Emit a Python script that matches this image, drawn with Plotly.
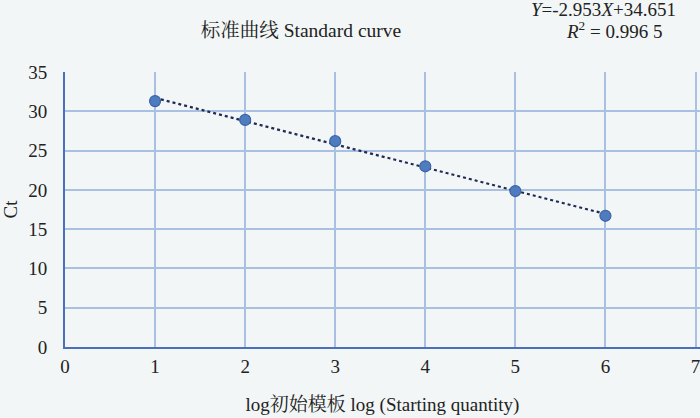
import numpy as np
import plotly.graph_objects as go

# data
log_quantity = [1, 2, 3, 4, 5, 6]
ct_values = [31.3, 28.9, 26.2, 23.0, 19.85, 16.7]

# trendline reported on the chart
slope = -2.953
intercept = 34.651
r_squared = "0.996 5"

x_ticks = [0, 1, 2, 3, 4, 5, 6, 7]
y_ticks = [0, 5, 10, 15, 20, 25, 30, 35]

FONT = "Liberation Serif, Times New Roman, Noto Serif CJK SC, Noto Sans CJK SC, serif"
BG = "#f3f6f6"
GRID = "#a9c0e2"
AXIS = "#4a70b8"
TXT = "#222"

fit_x = np.array([log_quantity[0], log_quantity[-1]], dtype=float)
fit_y = slope * fit_x + intercept

fig = go.Figure()
fig.add_trace(go.Scatter(
    x=fit_x, y=fit_y, mode="lines",
    line=dict(color="#1f2a55", width=2.2, dash="dot"),
    hoverinfo="skip", showlegend=False,
))
fig.add_trace(go.Scatter(
    x=log_quantity, y=ct_values, mode="markers",
    marker=dict(size=11, color="#4f7cbf", line=dict(color="#3a64a6", width=1.2)),
    showlegend=False,
))

fig.add_annotation(
    text="<i>Y</i>=-2.953<i>X</i>+34.651",
    xref="paper", yref="paper", x=0.966, y=1.0, yanchor="middle", xanchor="right",
    showarrow=False, font=dict(family=FONT, size=19, color=TXT),
    yshift=63,
)
fig.add_annotation(
    text=f"<i>R</i><sup>2</sup> = {r_squared}",
    xref="paper", yref="paper", x=0.943, y=1.0, yanchor="middle", xanchor="right",
    showarrow=False, font=dict(family=FONT, size=19, color=TXT),
    yshift=42,
)

fig.update_layout(
    width=700, height=418,
    title=dict(
        text="标准曲线 Standard curve",
        x=0.43, xanchor="center", y=0.928, yanchor="middle",
        font=dict(family=FONT, size=19.5, color=TXT),
    ),
    paper_bgcolor=BG,
    plot_bgcolor=BG,
    margin=dict(l=65, r=0, t=72, b=71),
    font=dict(family=FONT, size=19, color=TXT),
    xaxis=dict(
        range=[0, 7.05], tickvals=x_ticks, showgrid=True, gridcolor=GRID, gridwidth=2,
        showline=True, linecolor=AXIS, linewidth=2, zeroline=False,
        ticks="", ticklabelstandoff=1, ticklabeloverflow="allow",
        title=dict(text="log初始模板 log (Starting quantity)", standoff=22,
                   font=dict(family=FONT, size=19)),
    ),
    yaxis=dict(
        range=[0, 35], tickvals=y_ticks, showgrid=True, gridcolor=GRID, gridwidth=2,
        showline=True, linecolor=AXIS, linewidth=2, zeroline=False,
        ticks="", ticklabelstandoff=12,
        title=dict(text="Ct", standoff=6, font=dict(family=FONT, size=19)),
    ),
)

fig.write_html("out.html", config={"displayModeBar": False},
               post_script="document.body.style.margin='0';")
